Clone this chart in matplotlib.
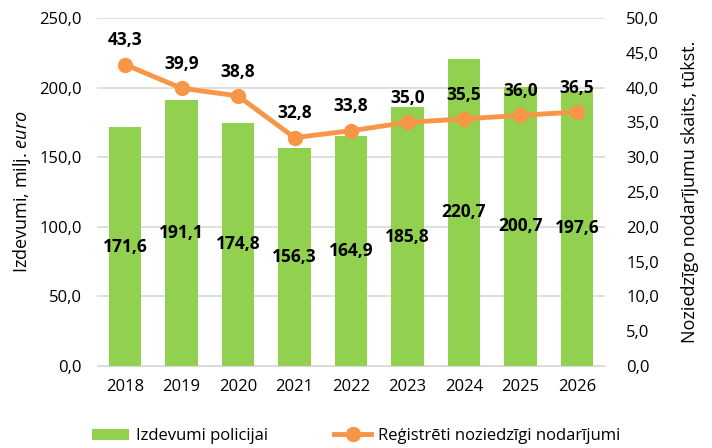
import matplotlib
matplotlib.use("Agg")
import matplotlib.pyplot as plt
from matplotlib.ticker import FuncFormatter

years = ["2018", "2019", "2020", "2021", "2022", "2023", "2024", "2025", "2026"]
spending = [171.6, 191.1, 174.8, 156.3, 164.9, 185.8, 220.7, 200.7, 197.6]
crimes = [43.3, 39.9, 38.8, 32.8, 33.8, 35.0, 35.5, 36.0, 36.5]

plt.rcParams["font.family"] = ["Open Sans", "DejaVu Sans"]
plt.rcParams["font.size"] = 12
plt.rcParams["mathtext.fontset"] = "custom"
plt.rcParams["mathtext.rm"] = "Open Sans"
plt.rcParams["mathtext.it"] = "Open Sans:italic"

BAR = "#92D050"
LINE = "#F79646"


def comma(v, _pos=None):
    return f"{v:.1f}".replace(".", ",")


fig = plt.figure(figsize=(7.12, 4.48), dpi=100)
ax = fig.add_axes([0.136, 0.183, 0.714, 0.777])
ax2 = ax.twinx()

x = range(len(years))
bars = ax.bar(x, spending, width=0.57, color=BAR, zorder=2, label="Izdevumi policijai")
for xi, v in zip(x, spending):
    ax.text(xi, v / 2, comma(v), ha="center", va="center", fontweight="bold", fontsize=12.5)

line, = ax2.plot(x, crimes, color=LINE, lw=3.5, marker="o", ms=10, zorder=3,
                 label="Reģistrēti noziedzīgi nodarījumi")
for xi, v in zip(x, crimes):
    ax2.annotate(comma(v), (xi, v), xytext=(0, 11), textcoords="offset points",
                 ha="center", va="bottom", fontweight="bold", fontsize=12.5)

ax.set_ylim(0, 250)
ax.set_yticks(range(0, 251, 50))
ax2.set_ylim(0, 50)
ax2.set_yticks(range(0, 51, 5))
ax.yaxis.set_major_formatter(FuncFormatter(comma))
ax2.yaxis.set_major_formatter(FuncFormatter(comma))
ax.set_xlim(-0.5, len(years) - 0.5)
ax.set_xticks(list(x))
ax.set_xticklabels(years)

ax.grid(axis="y", color="#d9d9d9", lw=1.2, zorder=0)
ax.set_axisbelow(True)
for a in (ax, ax2):
    for s in a.spines.values():
        s.set_visible(False)
    a.tick_params(length=0, labelsize=12)
ax.spines["bottom"].set_visible(True)
ax.spines["bottom"].set_color("#d9d9d9")
ax.tick_params(axis="x", pad=9)
ax.tick_params(axis="y", pad=11)
ax2.tick_params(axis="y", pad=15)

ax.set_ylabel("Izdevumi, milj. $\\mathit{euro}$", fontsize=13, labelpad=4)
ax2.set_ylabel("Noziedzīgo nodarījumu skaits, tūkst.", fontsize=13, labelpad=16)

fig.legend(handles=[bars, line], loc="lower center", ncol=2, frameon=False,
           bbox_to_anchor=(0.5, -0.025), fontsize=12, handlelength=2.2,
           handletextpad=0.4, columnspacing=4)

fig.savefig("out.png", dpi=100)
